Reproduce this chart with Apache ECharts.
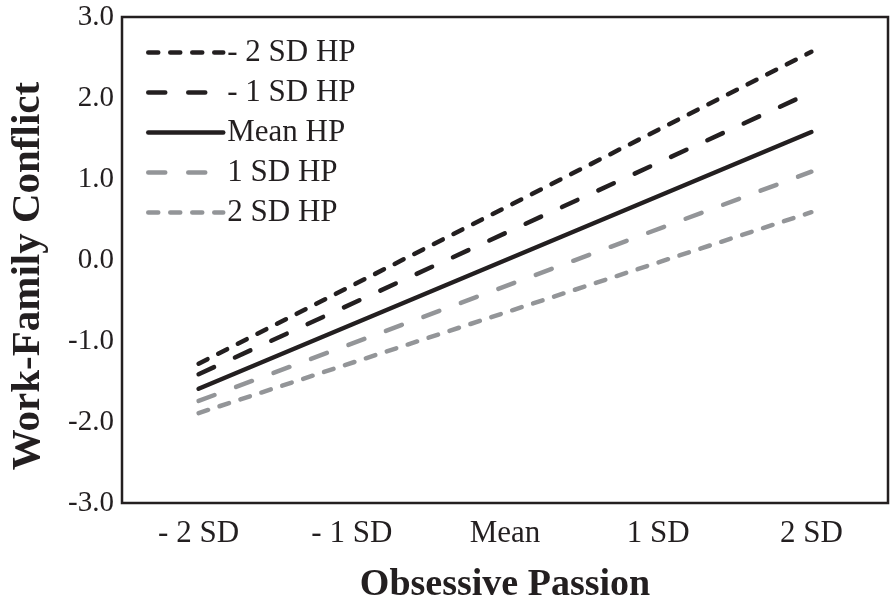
<!DOCTYPE html>
<html>
<head>
<meta charset="utf-8">
<script src="https://cdn.jsdelivr.net/npm/echarts@6/dist/echarts.min.js"></script>
<style>
  html, body { margin: 0; padding: 0; background: #fff; }
  #chart { width: 890px; height: 610px; }
</style>
</head>
<body>
<div id="chart"></div>
<script>
// categories on the x axis
var levels = ['- 2 SD', '- 1 SD', 'Mean', '1 SD', '2 SD'];
var yTicks = [-3, -2, -1, 0, 1, 2, 3];

// simple slopes, read at -2 SD and 2 SD (straight lines in between)
var minus2SD = [-1.28, null, null, null, 2.57];
var minus1SD = [-1.41, null, null, null, 2.07];
var meanHP   = [-1.59, null, null, null, 1.58];
var plus1SD  = [-1.74, null, null, null, 1.09];
var plus2SD  = [-1.89, null, null, null, 0.59];

var seriesNames = ['- 2 SD HP', '- 1 SD HP', 'Mean HP', '1 SD HP', '2 SD HP'];

var black = '#231f20';
var grey = '#939598';
var font = 'Liberation Serif';
var shortDash = [10, 12];
var longDash = [17, 23];
var dashes = [shortDash, longDash, 'solid', longDash, shortDash];
var colors = [black, black, black, grey, grey];

function line(name, data, color, dash) {
  return {
    name: name,
    type: 'line',
    data: data,
    connectNulls: true,
    showSymbol: false,
    symbol: 'none',
    silent: true,
    lineStyle: { color: color, width: 4.5, type: dash, cap: 'round' },
    itemStyle: { color: color }
  };
}

var chart = echarts.init(document.getElementById('chart'));

var option = {
  animation: false,
  textStyle: { fontFamily: font },
  grid: {
    left: 117, right: 2, top: 17, bottom: 107,
    show: true, borderColor: black, borderWidth: 2.5
  },
  legend: {
    orient: 'vertical',
    left: 141,
    top: 32,
    itemWidth: 75,
    itemHeight: 30,
    itemGap: 9,
    itemStyle: { opacity: 0 },
    data: seriesNames.map(function (n, i) {
      return {
        name: n,
        lineStyle: { color: colors[i], width: 4.5, type: dashes[i], cap: 'round' }
      };
    }),
    textStyle: { fontFamily: font, fontSize: 31, color: black, padding: [0, 0, 0, -1] }
  },
  xAxis: {
    type: 'category',
    data: levels,
    boundaryGap: true,
    axisLine: { show: false },
    axisTick: { show: false },
    axisLabel: { fontFamily: font, fontSize: 31, color: black, margin: 15 },
    name: 'Obsessive Passion',
    nameLocation: 'middle',
    nameGap: 63,
    nameTextStyle: { fontFamily: font, fontSize: 38, fontWeight: 'bold', color: black }
  },
  yAxis: {
    type: 'value',
    min: yTicks[0],
    max: yTicks[yTicks.length - 1],
    interval: 1,
    axisLine: { show: false },
    axisTick: { show: false },
    splitLine: { show: false },
    axisLabel: {
      fontFamily: font, fontSize: 29, color: black, margin: 8,
      formatter: function (v) { return v.toFixed(1); }
    },
    name: 'Work-Family Conflict',
    nameLocation: 'middle',
    nameGap: 73,
    nameTextStyle: {
      fontFamily: font, fontSize: 41, fontWeight: 'bold', color: black,
      padding: [0, 32, 0, 0]
    }
  },
  series: [
    line(seriesNames[0], minus2SD, colors[0], dashes[0]),
    line(seriesNames[1], minus1SD, colors[1], dashes[1]),
    line(seriesNames[2], meanHP, colors[2], dashes[2]),
    line(seriesNames[3], plus1SD, colors[3], dashes[3]),
    line(seriesNames[4], plus2SD, colors[4], dashes[4])
  ]
};

chart.setOption(option);
</script>
</body>
</html>
